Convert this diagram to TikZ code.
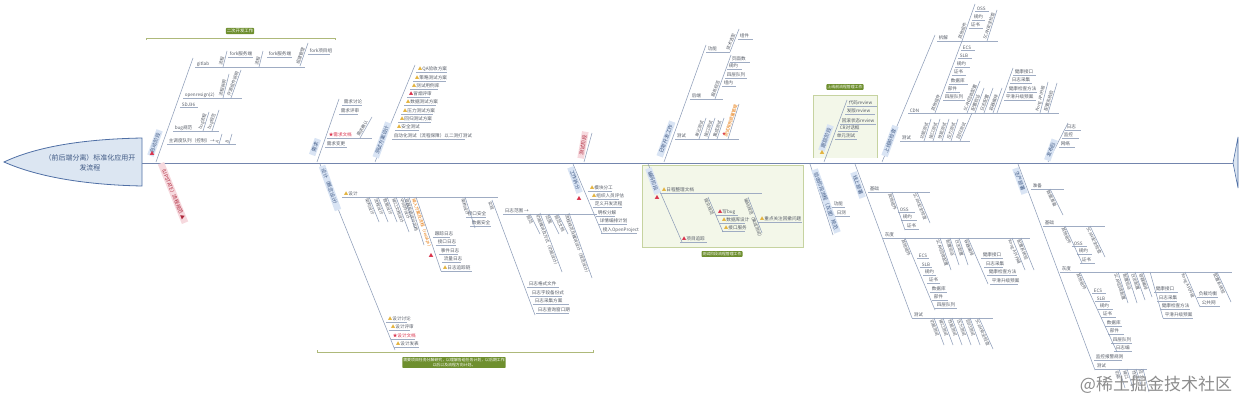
\documentclass[tikz,border=0pt]{standalone}
\usepackage{fontspec}
\setmainfont{Noto Sans CJK SC}
\definecolor{bonecol}{HTML}{8E9DB8}
\definecolor{spinecol}{HTML}{7385AD}
\definecolor{headfill}{HTML}{DCE6F2}
\definecolor{headline}{HTML}{4F6FA5}
\definecolor{tagfill}{HTML}{D9E4F4}
\definecolor{tagpink}{HTML}{F6D9DE}
\definecolor{textcol}{HTML}{555B66}
\definecolor{greentag}{HTML}{6E8F2E}
\definecolor{greenbox}{HTML}{F3F7E9}
\definecolor{greenline}{HTML}{C6D3A0}
\definecolor{bracketcol}{HTML}{AEB97A}
\definecolor{iconyellow}{HTML}{E3B23C}
\definecolor{iconred}{HTML}{D9304A}
\newcommand{\tri}{{\color{iconyellow}▲}}
\newcommand{\redi}{{\color{iconred}★}}
\tikzset{
  bone/.style={draw=bonecol,line width=.55pt},
  leafline/.style={draw=bonecol!85,line width=.5pt},
  leaf/.style={font=\fontsize{4.6}{5}\selectfont,text=textcol,anchor=south west,inner sep=.6pt},
  twiglabel/.style={font=\fontsize{4.3}{5}\selectfont,text=textcol,inner sep=.5pt,pos=0,sloped},
  tag/.style={font=\fontsize{5}{6}\selectfont,text=headline!80!black,fill=tagfill,inner xsep=3.5pt,inner ysep=1pt},
  pinktag/.style={tag,fill=tagpink,text=iconred!80!black},
  greenlabel/.style={font=\fontsize{4.4}{5.6}\selectfont,text=white,fill=greentag,rounded corners=.8pt,inner sep=1pt,align=center},
  bracket/.style={draw=bracketcol,line width=.6pt},
  icon/.style={text=iconred,font=\fontsize{5}{5}\selectfont,inner sep=0pt},
}
\newcommand{\bones}[1]{\foreach \nm/\ax/\ay/\bx/\by in {#1}{
  \coordinate (\nm a) at (\ax,\ay);
  \coordinate (\nm b) at (\bx,\by);
  \draw[bone] (\nm a) -- (\nm b);}}
\newcommand{\leaves}[2]{\foreach \lx/\ly/\lxe/\txt [count=\i] in {#2}{
  \coordinate (#1l\i) at (\lx,\ly);
  \coordinate (#1r\i) at (\lxe,\ly);
  \draw[leafline] (#1l\i) -- (#1r\i);
  \node[leaf] (#1t\i) at (\lx+1,\ly) {\txt};}}
\newcommand{\twigs}[3]{\foreach \ax/\ay/\bx/\by/\txt [count=\i] in {#3}{
  \coordinate (#1a\i) at (\ax,\ay);
  \coordinate (#1b\i) at (\bx,\by);
  \draw[bone] (#1a\i) -- (#1b\i) node[twiglabel,anchor=#2] (#1c\i) {\txt};}}
\begin{document}
\begin{tikzpicture}[x=1pt,y=-1pt]
\useasboundingbox (0,0) rectangle (1242,401);
\fill[greenbox] (813,95) rectangle (877,158);
\draw[greenline,line width=.6pt] (813,158)--(813,95)--(877,95)--(877,158);
\fill[greenbox] (642,165) rectangle (803,247);
\draw[greenline,line width=.6pt] (642,165) rectangle (803,247);
\coordinate (headr) at (142,163);
\coordinate (taill) at (1233,163);
\draw[spinecol,line width=1pt] (headr) -- (taill);
\draw[headline,fill=headfill,line width=.8pt] (4,162) .. controls (40,145) and (90,139) .. (142,138) -- (142,186) .. controls (90,185) and (40,178) .. (4,162) -- cycle;
\node[font=\fontsize{7}{10}\selectfont,text=headline!80!black,align=center] (title) at (90,163) {（前后端分离）标准化应用开\\发流程};
\draw[headline,fill=headfill,line width=.6pt] (taill) -- (1238,137) -- (1238,188) -- cycle;
\coordinate (brtl) at (146,40);
\coordinate (brtr) at (335,40);
\draw[bracket] (brtl) -- ++(0,-2) -| (brtr);
\node[greenlabel] (greentop) at (240,31) {二次开发工作};
\coordinate (brbl) at (317,350);
\coordinate (brbr) at (593,350);
\draw[bracket] (brbl) -- ++(0,2) -| (brbr);
\node[greenlabel,font=\fontsize{3.9}{5.2}\selectfont] (greenbot) at (454,362.5) {需要项目任务分解研究，以理解各组任务计划，以后期工作\\以后以及流程方向计划。};
\node[greenlabel,font=\fontsize{3.9}{5}\selectfont] (greenmid) at (722,254) {测试阶段流程管理工作};
\node[greenlabel,font=\fontsize{3.9}{5}\selectfont] (greenrev) at (845,87) {上线前流程管理工作};
\bones{start/156/162/193/58,req/317/162/339/99,plan/375/162/415/65,mark/584/162/592/133,dev/664/162/706/45,track/824/162/847/100,pre/882/162/935/35,post/1048/162/1068/123}
\bones{up/161/164/183/217,design/320/164/395/350,split/573/164/602/233,code/648/164/682/242,accept/810/164/833/235,online/855/164/912/318,prod/1018/164/1095/370}
\bones{prlast/997/113/1013/68,pdlast/1150/272/1163/318}
\node[tag,rotate=70] (tagstart) at (155,143) {启动阶段};
\node[pinktag,rotate=-68] (tagup) at (173,193) {（UPSTATE）流程规范 ▲};
\node[tag,rotate=70] (tagreq) at (315,147) {需求};
\node[tag,rotate=70] (tagplan) at (382,140) {测试方案设计};
\node[pinktag,rotate=80] (tagmark) at (583,145) {测试阶段};
\node[tag,rotate=70] (tagdev) at (666,139) {日常开发工作};
\node[tag,rotate=70] (tagtrack) at (826,138) {跟踪阶段};
\node[tag,rotate=70] (tagpre) at (890,141) {上线前检查};
\node[tag,rotate=70] (tagpost) at (1051,150) {发布后};
\node[tag,rotate=-70] (tagdesign) at (330,188) {设计（概念设计）};
\node[tag,rotate=-70] (tagsplit) at (575,180) {工作拆分};
\node[tag,rotate=-70] (tagcode) at (653,181) {编码阶段};
\node[tag,rotate=-70] (tagaccept) at (826,201) {验收阶段流程（灰度）规范};
\node[tag,rotate=-70] (tagonline) at (858,185) {线上部署};
\node[tag,rotate=-70] (tagprod) at (1020,181) {生产部署};
\node[icon] (icstart) at (152,153) {▲};
\node[icon] (icsplit) at (579,198) {▲};
\node[icon] (iccode) at (657,197) {▲};
\node[icon,font=\fontsize{4}{4}\selectfont] (icdev) at (724,134) {★};
\node[icon,text=iconyellow] (ictrack) at (822,152) {▲};
\leaves{st}{195/67/305/gitlab,183/98/242/openresign(2),180/107/198/SDJ36,173/131/219/bug规范,167/144/236/主调度队列（控制）→,228/57/253/fork服务端,267/57/292/fork服务端,308/54/330/fork项目组}
\twigs{st}{south west}{223/67/227/51/流程,259/67/263/51/流程,300/66/308/43/组建管理,223/98/229/74/流程说明,231/98/241/70/开源组件说明,203/131/209/112/bug流程,212/131/219/110/bug规范,219/144/222/134/A,229/144/232/134/B}
\leaves{rq}{342/105/362/需求讨论,339/114/358/需求评审,327/138/372/\redi{\color{iconred}需求文档},325/147/347/需求变更}
\twigs{rq}{south west}{360/138/372/117/需求确认}
\leaves{pl}{416/72/447/\tri QA验收方案,413/81/446/\tri 策略测试方案,410/89/438/\tri 测试用例库,407/97/430/{\color{iconred}▲}冒烟评审,404/105/436/\tri 数据测试方案,401/114/433/\tri 压力测试方案,398/122/431/\tri 回归测试方案,395/130/419/\tri 安全测试,392/139/465/自动化测试（流程保障）以二测打测试}
\leaves{dv}{706/52/730/功能,738/39/753/组件,690/99/723/后端,730/62/750/页面数,727/69/742/规约,725/78/747/四层队列,722/86/736/组内,675/139/739/测试}
\twigs{dv}{south west}{730/52/739/29/技术选型,715/99/731/55/服务规范,699/139/706/118/单元测试,708/139/715/118/接口测试,717/139/724/118/集成测试}
\coordinate (dvoa) at (728,139);
\coordinate (dvob) at (739,104);
\draw[bone] (dvoa) -- (dvob) node[twiglabel,anchor=south west,text=orange!90!black] (dvorange) {测试用例质量管理};
\leaves{tr}{847/106/877/代码review,845/114/875/发版review,840/124/876/回滚状态review,838/131/858/CR对话框,835/139/857/单元测试}
\leaves{pr}{908/113/1059/CDN,937/41/998/拆解,975/11/989/OSS,972/20/985/规约,969/28/983/证书,961/50/975/ECS,958/58/972/SLB,955/67/970/规约,952/75/966/证书,949/84/968/数据库,946/92/960/部件,943/100/965/四层队列,1013/75/1036/健康接口,1010/83/1032/日志采集,1007/92/1037/健康检查方法,1004/100/1036/平滑升级预案,900/141/970/测试}
\twigs{pr}{south west}{962/41/975/4/其他组件,987/41/997/10/SCAN安全检查,935/113/962/41/其他组件,967/113/980/81/SCAN回收配置,975/113/984/88/配置验证,984/113/993/88/日志配置,993/113/1002/88/容器编排,1040/113/1048/82/Kong API升级,1048/113/1057/83/配置系统验,924/141/931/119/功能测试,933/141/940/119/接口测试,942/141/949/119/性能测试,951/141/958/119/压力测试,960/141/972/113/回归测试}
\leaves{ps}{1065/130/1081/日志,1062/138/1079/监控,1059/147/1075/网络}
\leaves{de}{342/197/498/\tri 设计,433/237/450/跟踪日志,436/245/456/接口日志,439/254/458/事件日志,442/262/461/流量日志,441/271/472/\tri 日志追踪链,466/217/486/接口安全,470/226/491/数据安全,386/322/407/\tri 设计讨论,389/330/410/\tri 设计评审,391/339/415/\redi{\color{iconred}设计文档},394/347/419/\tri 设计发表,503/214/597/日志范围 →,527/287/559/日志格式文件,530/296/562/日志字段备份式,533/304/569/日志采集方案,536/313/569/日志查询窗口期}
\twigs{de}{north west}{369/197/379/222/架构设计,378/197/388/222/流程设计,387/197/397/222/数据设计,396/197/409/232/接口文档设计,404/197/415/228/中间件设计,409/197/424/245/容器系统设计文档,465/197/475/228/架构设计,492/200/535/315/实现,530/214/540/234/规范,540/213/562/272/功能模块及方式（功能设计）,549/214/559/234/范围,558/214/568/234/规范文档,569/213/592/278/流程规范及模块设计（规范设计）}
\coordinate (deoa) at (416,197);
\coordinate (deob) at (441,271);
\draw[bone] (deoa) -- (deob) node[twiglabel,anchor=north west,text=orange!90!black] (deorange) {接入方案及流程（restApi）};
\node[icon] (icdesign) at (431,255) {▲};
\leaves{sp}{588/191/612/\tri 模块分工,590/199/619/\tri 组织人员评估,593/207/622/定义开发流程,596/216/615/明权分解,598/224/627/详情编排计划,601/233/637/接入OpenProject}
\leaves{co}{660/193/762/\tri 日程整理文档,716/215/738/{\color{iconred}▲}写bug,720/223/745/\tri 数据库设计,722/231/745/\tri 接口服务,758/222/802/\tri 重点关注回撤问题,680/242/707/{\color{iconred}▲}项目追踪}
\twigs{co}{north west}{708/197/723/232/提交规范,748/197/762/233/编码规范（集成测试）}
\leaves{ac}{832/207/845/功能,835/216/850/日测}
\leaves{on}{868/192/930/基础,898/212/915/OSS,901/220/917/规约,905/229/919/证书,883/238/1030/灰度,917/258/929/ECS,920/267/932/SLB,923/275/936/规约,927/283/940/证书,930/292/947/数据库,932/300/948/部件,935/308/957/四层队列,981/258/1003/健康接口,984/267/1003/日志采集,987/275/1017/健康检查方法,990/284/1018/平滑升级预案,912/318/993/测试}
\twigs{on}{north west}{892/192/905/230/其他组件,917/192/930/223/SCAN安全检查,905/238/935/310/其他组件,940/238/951/270/SCAN回收配置,950/238/959/265/配置验证,959/238/968/265/日志配置,968/238/988/284/容器编排,1012/238/1025/270/Kong API升级,1021/238/1034/270/配置系统验,934/318/944/345/功能测试,943/318/953/345/接口测试,952/318/962/345/性能测试,961/318/971/345/压力测试,970/318/980/345/回归测试,979/318/993/349/SCAN安全检查}
\leaves{pd}{1031/189/1064/准备,1043/226/1105/基础,1072/246/1087/OSS,1077/254/1092/规约,1080/263/1095/证书,1060/272/1232/灰度,1092/293/1106/ECS,1095/301/1110/SLB,1098/309/1113/规约,1101/317/1116/证书,1105/326/1122/数据库,1108/334/1124/部件,1111/343/1132/四层队列,1114/351/1132/日志编,1154/292/1178/健康接口,1157/301/1177/日志采集,1160/309/1190/健康检查方法,1163/318/1193/平滑升级预案,1197/297/1218/负载均衡,1200/306/1220/公共网,1094/360/1122/监控报警规则,1095/369/1147/测试}
\twigs{pd}{north west}{1050/189/1063/215/数据准备,1065/226/1082/263/其他组件,1090/226/1105/257/SCAN安全检查,1080/272/1117/352/其他组件,1118/272/1128/303/SCAN回收配置,1127/272/1137/303/配置验证,1135/272/1145/300/日志配置,1143/272/1152/297/容器编排,1185/272/1200/307/Kong API升级,1217/272/1231/302/配置系统验,1119/369/1125/388/功能,1127/369/1133/388/接口,1136/369/1142/388/性能,1143/369/1149/392/压力}
\node[text=black!45,font=\fontsize{17}{20}\selectfont,inner sep=0pt] (watermark) at (1156,385) {@稀土掘金技术社区};
\end{tikzpicture}
\end{document}
